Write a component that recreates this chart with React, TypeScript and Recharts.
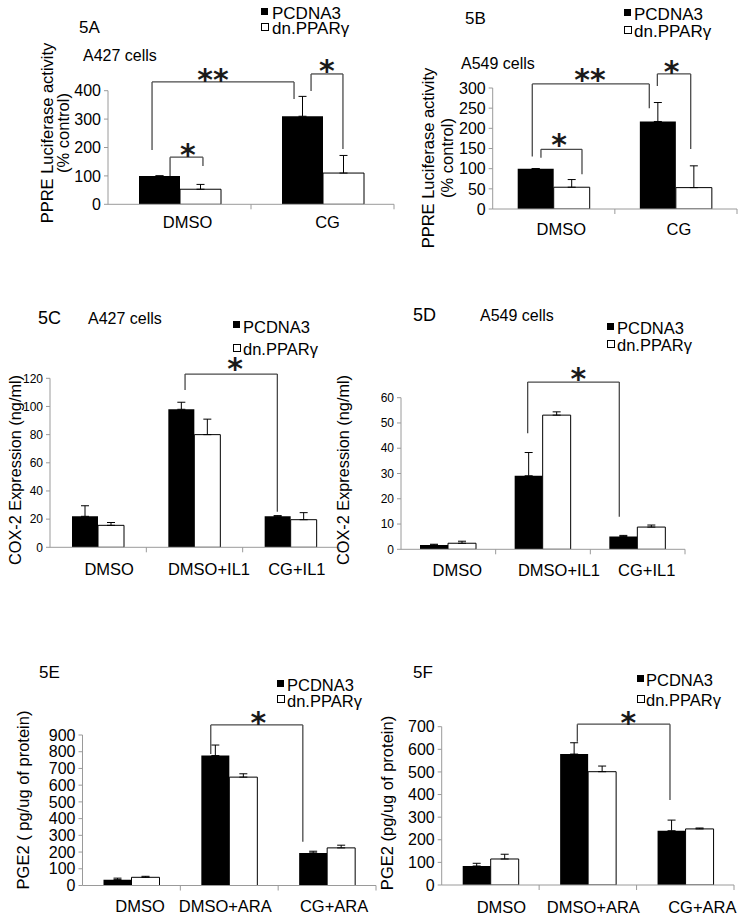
import React from 'react';
import {
  BarChart, Bar, XAxis, YAxis, ErrorBar, ReferenceLine, ReferenceDot, Legend,
} from 'recharts';

const FONT = '"Liberation Sans", Arial, sans-serif';
const STAR_FONT = '"DejaVu Sans", sans-serif';

// ---------- data ----------
const seriesNames = ['PCDNA3', 'dn.PPARγ'];

const catsA = ['DMSO', 'CG'];
const pcA = [100, 310];
const pcErrA = [0, 70];
const dnA = [53, 110];
const dnErrA = [17, 62];
const ticksA = [0, 100, 200, 300, 400];

const catsB = ['DMSO', 'CG'];
const pcB = [100, 217];
const pcErrB = [0, 47];
const dnB = [54, 53];
const dnErrB = [19, 54];
const ticksB = [0, 50, 100, 150, 200, 250, 300];

const catsC = ['DMSO', 'DMSO+IL1', 'CG+IL1'];
const pcC = [22, 98, 22];
const pcErrC = [7.5, 5, 0.5];
const dnC = [15.6, 80, 19.6];
const dnErrC = [2, 11, 5];
const ticksC = [0, 20, 40, 60, 80, 100, 120];

const catsD = ['DMSO', 'DMSO+IL1', 'CG+IL1'];
const pcD = [1.7, 29.1, 5.1];
const pcErrD = [0.3, 9.2, 0.4];
const dnD = [2.4, 53.1, 8.8];
const dnErrD = [0.8, 1.3, 0.8];
const ticksD = [0, 10, 20, 30, 40, 50, 60];

const catsE = ['DMSO', 'DMSO+ARA', 'CG+ARA'];
const pcE = [35, 777, 195];
const pcErrE = [9, 63, 10];
const dnE = [49, 648, 225];
const dnErrE = [6, 20, 16];
const ticksE = [0, 100, 200, 300, 400, 500, 600, 700, 800, 900];

const catsF = ['DMSO', 'DMSO+ARA', 'CG+ARA'];
const pcF = [84, 579, 240];
const pcErrF = [12, 50, 47];
const dnF = [115, 501, 248];
const dnErrF = [21, 25, 4];
const ticksF = [0, 100, 200, 300, 400, 500, 600, 700];

// significance brackets (x in category units: category i spans [i, i+1]; y in data units)
const bracketsA = [
  { x1: 0.434, y1: 100, x2: 0.664, y2: 135, top: 166 },
  { x1: 0.308, y1: 191, x2: 1.301, y2: 371, top: 431 },
  { x1: 1.42, y1: 399, x2: 1.643, y2: 195, top: 459 },
];
const starsA = [
  { x: 0.559, y: 202, text: '*' },
  { x: 0.734, y: 466, text: '**' },
  { x: 1.531, y: 497, text: '*' },
];
const bracketsB = [
  { x1: 0.395, y1: 127, x2: 0.731, y2: 86, top: 148 },
  { x1: 0.324, y1: 130, x2: 1.282, y2: 250, top: 310 },
  { x1: 1.348, y1: 305, x2: 1.621, y2: 149, top: 335 },
];
const starsB = [
  { x: 0.543, y: 179, text: '*' },
  { x: 0.797, y: 338, text: '**' },
  { x: 1.465, y: 359, text: '*' },
];
const bracketsC = [{ x1: 1.402, y1: 111.7, x2: 2.36, y2: 25.3, top: 123 }];
const starsC = [{ x: 1.921, y: 132, text: '*' }];
const bracketsD = [{ x1: 1.338, y1: 45.9, x2: 2.306, y2: 12.9, top: 66.2 }];
const starsD = [{ x: 1.873, y: 70.3, text: '*' }];
const bracketsE = [{ x1: 1.311, y1: 786, x2: 2.252, y2: 262, top: 960 }];
const starsE = [{ x: 1.797, y: 1020, text: '*' }];
const bracketsF = [{ x1: 1.392, y1: 634, x2: 2.343, y2: 376, top: 711 }];
const starsF = [{ x: 1.915, y: 752, text: '*' }];

// ---------- layout ----------
const panels = [
  {
    id: 'A', cats: catsA, pc: pcA, pcErr: pcErrA, dn: dnA, dnErr: dnErrA, ticks: ticksA,
    brackets: bracketsA, stars: starsA,
    left: 0, top: 0, width: 400, height: 245,
    x0: 108, x1: 394, yTop: 90.7, yBottom: 204.3,
    barSize: 41, tickFs: 16, catFs: 16.5, catDy: 17.5, catDx: [8, 5],
    yLabel: ['PPRE Luciferase activity', '(% control)'], yLabelX: [47, 63], yLabelY: 133, yLabelFs: 16.5,
    legend: { x: 261, y1: 13.5, y2: 28.5, fs: 17, textDx: 11 },
  },
  {
    id: 'B', cats: catsB, pc: pcB, pcErr: pcErrB, dn: dnB, dnErr: dnErrB, ticks: ticksB,
    brackets: bracketsB, stars: starsB,
    left: 370, top: 0, width: 373, height: 260,
    x0: 492.7, x1: 737, yTop: 88, yBottom: 209,
    barSize: 36, tickFs: 16, catFs: 16.5, catDy: 20, catDx: [7.5, 3],
    yLabel: ['PPRE Luciferase activity', '(% control)'], yLabelX: [428, 447], yLabelY: 158, yLabelFs: 16.5,
    legend: { x: 624, y1: 14.5, y2: 31.5, fs: 17, textDx: 10 },
  },
  {
    id: 'C', cats: catsC, pc: pcC, pcErr: pcErrC, dn: dnC, dnErr: dnErrC, ticks: ticksC,
    brackets: bracketsC, stars: starsC,
    left: 0, top: 300, width: 370, height: 300,
    x0: 50, x1: 339, yTop: 378.3, yBottom: 547.3,
    barSize: 26, tickFs: 12, catFs: 16.5, catDy: 22, catDx: [11, 14.5, 6],
    yLabel: ['COX-2 Expression (ng/ml)'], yLabelX: [15], yLabelY: 470, yLabelFs: 16.3,
    legend: { x: 233, y1: 326.5, y2: 349, fs: 16.5, textDx: 10 },
  },
  {
    id: 'D', cats: catsD, pc: pcD, pcErr: pcErrD, dn: dnD, dnErr: dnErrD, ticks: ticksD,
    brackets: bracketsD, stars: starsD,
    left: 325, top: 300, width: 418, height: 300,
    x0: 401, x1: 685, yTop: 397.7, yBottom: 549.3,
    barSize: 28, tickFs: 12, catFs: 16.5, catDy: 21, catDx: [9, 16, 9],
    yLabel: ['COX-2 Expression (ng/ml)'], yLabelX: [343], yLabelY: 470, yLabelFs: 16.3,
    legend: { x: 607, y1: 328, y2: 345, fs: 16.5, textDx: 10 },
  },
  {
    id: 'E', cats: catsE, pc: pcE, pcErr: pcErrE, dn: dnE, dnErr: dnErrE, ticks: ticksE,
    brackets: bracketsE, stars: starsE,
    left: 0, top: 630, width: 400, height: 289,
    x0: 82.5, x1: 376, yTop: 735, yBottom: 885.5,
    barSize: 28, tickFs: 16, catFs: 16.5, catDy: 20.5, catDx: [8.6, -4, 7],
    yLabel: ['PGE2 ( pg/ug of protein)'], yLabelX: [23], yLabelY: 800, yLabelFs: 16.5,
    legend: { x: 277, y1: 685, y2: 700.7, fs: 16.5, textDx: 10 },
  },
  {
    id: 'F', cats: catsF, pc: pcF, pcErr: pcErrF, dn: dnF, dnErr: dnErrF, ticks: ticksF,
    brackets: bracketsF, stars: starsF,
    left: 370, top: 630, width: 373, height: 289,
    x0: 441.7, x1: 734, yTop: 726.7, yBottom: 885,
    barSize: 28, tickFs: 16, catFs: 16.5, catDy: 21.7, catDx: [11, 5.5, 17],
    yLabel: ['PGE2 (pg/ug of protein)'], yLabelX: [387], yLabelY: 803, yLabelFs: 16.5,
    legend: { x: 637, y1: 680, y2: 700, fs: 16.5, textDx: 9 },
  },
];

const titles = [
  { text: '5A', x: 79, y: 27, fs: 17 },
  { text: 'A427 cells', x: 83, y: 55, fs: 16 },
  { text: '5B', x: 465, y: 18, fs: 17 },
  { text: 'A549 cells', x: 461, y: 63, fs: 16 },
  { text: '5C', x: 38, y: 318, fs: 18 },
  { text: 'A427 cells', x: 88, y: 318, fs: 16 },
  { text: '5D', x: 413, y: 315, fs: 18 },
  { text: 'A549 cells', x: 480, y: 315, fs: 16 },
  { text: '5E', x: 39, y: 672.5, fs: 17 },
  { text: '5F', x: 413, y: 672.5, fs: 17 },
];

const AXIS = '#9a9a9a';
const BRACKET = '#4a4a4a';
const XH = 30;

function Panel({ cfg }: { cfg: any }) {
  const n = cfg.cats.length;
  const band = (cfg.x1 - cfg.x0) / n;
  // the hidden numeric x axis spans the row indices 0..n-1 across the plot width
  const toAx = (c: number) => (c * (n - 1)) / n;
  const data = cfg.cats.map((c: string, i: number) => ({
    cat: c,
    pc: cfg.pc[i],
    pcErr: [0, cfg.pcErr[i]],
    dn: cfg.dn[i],
    dnErr: [0, cfg.dnErr[i]],
  }));
  const margin = {
    top: cfg.yTop - cfg.top,
    right: cfg.left + cfg.width - cfg.x1,
    bottom: cfg.top + cfg.height - cfg.yBottom - XH,
    left: 0,
  };
  const max = cfg.ticks[cfg.ticks.length - 1];

  const catTick = (p: any) => {
    const { x, y, payload, index } = p;
    return (
      <g>
        <line x1={x + band / 2} y1={y} x2={x + band / 2} y2={y + 5} stroke={AXIS} strokeWidth={1} />
        <text
          x={x + (cfg.catDx[index] || 0)}
          y={y + cfg.catDy}
          textAnchor="middle"
          dominantBaseline="central"
          fontFamily={FONT}
          fontSize={cfg.catFs}
          fill="#000"
        >
          {payload.value}
        </text>
      </g>
    );
  };

  const yLabel = () => (
    <g>
      {cfg.yLabel.map((t: string, i: number) => {
        const lx = cfg.yLabelX[i] - cfg.left;
        const ly = cfg.yLabelY - cfg.top;
        return (
          <text
            key={i}
            x={lx}
            y={ly}
            transform={`rotate(-90, ${lx}, ${ly})`}
            textAnchor="middle"
            dominantBaseline="central"
            fontFamily={FONT}
            fontSize={cfg.yLabelFs}
            fill="#000"
          >
            {t}
          </text>
        );
      })}
    </g>
  );

  const lg = cfg.legend;
  const lh = 20;
  const legendContent = () => (
    <div style={{ position: 'relative', width: 120, height: 50, fontFamily: FONT, fontSize: lg.fs, color: '#000' }}>
      {seriesNames.map((name, i) => {
        const top = i === 0 ? 0 : lg.y2 - lg.y1;
        return (
          <div key={name} style={{ position: 'absolute', left: 0, top, height: lh, lineHeight: `${lh}px`, whiteSpace: 'nowrap' }}>
            <span
              style={{
                position: 'absolute',
                left: 0,
                top: lh / 2 - 5.5,
                width: i === 0 ? 7 : 6,
                height: i === 0 ? 7 : 6,
                background: i === 0 ? '#000' : '#fff',
                border: i === 0 ? 'none' : '0.8px solid #000',
              }}
            />
            <span style={{ position: 'absolute', left: lg.textDx, top: 0 }}>{name}</span>
          </div>
        );
      })}
    </div>
  );

  const starShape = (text: string) => (p: any) => {
    const fs = 30;
    return (
      <text
        x={p.cx}
        y={p.cy + 0.59 * fs}
        textAnchor="middle"
        fontFamily={STAR_FONT}
        fontWeight="bold"
        fontSize={fs}
        fill="#1a1a1a"
      >
        {text}
      </text>
    );
  };

  return (
    <div style={{ position: 'absolute', left: cfg.left, top: cfg.top }}>
      <BarChart width={cfg.width} height={cfg.height} data={data} margin={margin} barGap={0}>
        <XAxis
          xAxisId="c"
          dataKey="cat"
          type="category"
          height={XH}
          stroke={AXIS}
          tickLine={false}
          tickSize={0}
          tickMargin={0}
          interval={0}
          tick={catTick}
        />
        <XAxis xAxisId="n" type="number" domain={[0, n - 1]} hide allowDataOverflow />
        <YAxis
          type="number"
          domain={[0, max]}
          ticks={cfg.ticks}
          interval={0}
          allowDataOverflow
          width={cfg.x0 - cfg.left}
          stroke={AXIS}
          tickSize={4}
          tickMargin={3}
          tick={{ fill: '#000', fontSize: cfg.tickFs, fontFamily: FONT }}
          label={yLabel}
        />
        <Legend
          layout="vertical"
          align="center"
          verticalAlign="middle"
          content={legendContent}
          wrapperStyle={{ left: lg.x - cfg.left, top: lg.y1 - cfg.top - lh / 2, width: 120, height: 50 }}
        />
        <Bar xAxisId="c" dataKey="pc" name={seriesNames[0]} fill="#000" barSize={cfg.barSize} isAnimationActive={false}>
          <ErrorBar dataKey="pcErr" direction="y" width={4} stroke="#000" strokeWidth={1} />
        </Bar>
        <Bar xAxisId="c" dataKey="dn" name={seriesNames[1]} fill="#fff" stroke="#000" strokeWidth={1} barSize={cfg.barSize} isAnimationActive={false}>
          <ErrorBar dataKey="dnErr" direction="y" width={4} stroke="#000" strokeWidth={1} />
        </Bar>
        {cfg.brackets.map((b: any, i: number) => [
          <ReferenceLine key={`l${i}`} xAxisId="n" ifOverflow="visible" stroke={BRACKET} strokeWidth={1.3}
            segment={[{ x: toAx(b.x1), y: b.y1 }, { x: toAx(b.x1), y: b.top }]} />,
          <ReferenceLine key={`t${i}`} xAxisId="n" ifOverflow="visible" stroke={BRACKET} strokeWidth={1.3}
            segment={[{ x: toAx(b.x1), y: b.top }, { x: toAx(b.x2), y: b.top }]} />,
          <ReferenceLine key={`r${i}`} xAxisId="n" ifOverflow="visible" stroke={BRACKET} strokeWidth={1.3}
            segment={[{ x: toAx(b.x2), y: b.top }, { x: toAx(b.x2), y: b.y2 }]} />,
        ])}
        {cfg.stars.map((s: any, i: number) => (
          <ReferenceDot key={`s${i}`} xAxisId="n" x={toAx(s.x)} y={s.y} r={1} ifOverflow="visible" shape={starShape(s.text)} />
        ))}
      </BarChart>
    </div>
  );
}

export default function App() {
  return (
    <div style={{ position: 'absolute', left: 0, top: 0, width: 743, height: 919, background: '#fff', overflow: 'hidden' }}>
      {panels.map((p) => (
        <Panel key={p.id} cfg={p} />
      ))}
      <svg width={743} height={919} style={{ position: 'absolute', left: 0, top: 0, pointerEvents: 'none' }}>
        {titles.map((t, i) => (
          <text key={i} x={t.x} y={t.y} dominantBaseline="central" fontFamily={FONT} fontSize={t.fs} fill="#000">
            {t.text}
          </text>
        ))}
      </svg>
    </div>
  );
}
